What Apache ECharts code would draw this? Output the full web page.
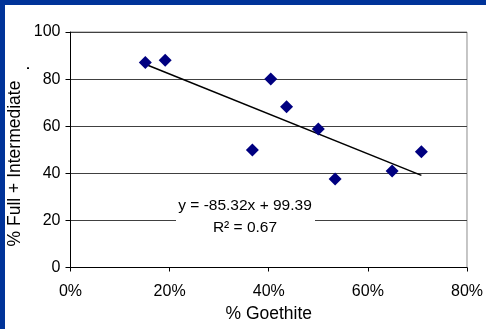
<!DOCTYPE html>
<html>
<head>
<meta charset="utf-8">
<script src="https://cdn.jsdelivr.net/npm/echarts@6/dist/echarts.min.js"></script>
<style>
html,body{margin:0;padding:0;background:#fff;}
#c{width:486px;height:329px;}
</style>
</head>
<body>
<div id="c"></div>
<script>
// Data
var goethitePct = [15.1, 19.1, 36.7, 40.4, 43.6, 50.0, 53.4, 64.9, 70.8];
var fullIntermediatePct = [87.0, 88.0, 49.9, 80.0, 68.3, 58.8, 37.6, 41.0, 49.2];
var trendX = [15.1, 70.8];
var trendY = [86.3, 39.1];
var xTicks = [0, 20, 40, 60, 80];
var yTicks = [0, 20, 40, 60, 80, 100];
var xAxisTitle = '% Goethite';
var yAxisTitle = '% Full + Intermediate';
var equationText = 'y = -85.32x + 99.39';
var r2Text = 'R² = 0.67';

var points = goethitePct.map(function (x, i) { return [x, fullIntermediatePct[i]]; });
var trend = trendX.map(function (x, i) { return [x, trendY[i]]; });

var chart = echarts.init(document.getElementById('c'), null, {renderer: 'canvas'});
var font = 'Liberation Sans, Arial, sans-serif';
chart.setOption({
  backgroundColor: '#fff',
  animation: false,
  grid: {left: 70.5, right: 18.5, top: 32, bottom: 61.5, show: true, borderColor: '#8c8c8c', borderWidth: 1, backgroundColor: 'transparent'},
  xAxis: {
    type: 'value', min: xTicks[0], max: xTicks[xTicks.length - 1], interval: 20,
    name: xAxisTitle, nameLocation: 'middle', nameGap: 38,
    nameTextStyle: {fontFamily: font, fontSize: 17.5, color: '#000'},
    axisLine: {show: true, lineStyle: {color: '#000', width: 1}},
    axisTick: {show: true, length: 4, lineStyle: {color: '#000'}},
    axisLabel: {fontFamily: font, fontSize: 16, color: '#000', margin: 16, formatter: function (v) { return v + '%'; }},
    splitLine: {show: false}
  },
  yAxis: {
    type: 'value', min: yTicks[0], max: yTicks[yTicks.length - 1], interval: 20,
    axisLine: {show: true, lineStyle: {color: '#000', width: 1}},
    axisTick: {show: true, length: 5, inside: false, lineStyle: {color: '#000'}},
    axisLabel: {fontFamily: font, fontSize: 16, color: '#000', margin: 10},
    splitLine: {show: true, lineStyle: {color: '#404040', width: 1}}
  },
  series: [
    {
      type: 'line', data: trend, symbol: 'none', silent: true,
      lineStyle: {color: '#000', width: 1.5}, z: 3
    },
    {
      type: 'scatter', data: points, symbol: 'diamond', symbolSize: 13,
      itemStyle: {color: '#000080', opacity: 1}, z: 4
    }
  ],
  graphic: [
    {type: 'rect', left: 0, top: 0, shape: {width: 486, height: 5}, style: {fill: '#003399'}, z: 100},
    {type: 'rect', left: 0, top: 0, shape: {width: 5, height: 329}, style: {fill: '#003399'}, z: 100},
    {type: 'rect', x: 176, y: 195, shape: {width: 139, height: 44}, style: {fill: '#fff'}, z: 50},
    {type: 'text', x: 245, y: 205.5, z: 51,
      style: {text: equationText, font: '15.5px ' + font, fill: '#000', textAlign: 'center', textVerticalAlign: 'middle'}},
    {type: 'text', x: 245, y: 227.5, z: 51,
      style: {text: r2Text, font: '15.5px ' + font, fill: '#000', textAlign: 'center', textVerticalAlign: 'middle'}},
    {type: 'text', x: 15.5, y: 163.5, rotation: Math.PI / 2, z: 51,
      style: {text: yAxisTitle, font: '17.5px ' + font, fill: '#000', textAlign: 'center', textVerticalAlign: 'middle'}},
    {type: 'text', x: 24, y: 68, rotation: Math.PI / 2, z: 51,
      style: {text: '.', font: '17.5px ' + font, fill: '#000', textAlign: 'center', textVerticalAlign: 'middle'}}
  ]
});
</script>
</body>
</html>
